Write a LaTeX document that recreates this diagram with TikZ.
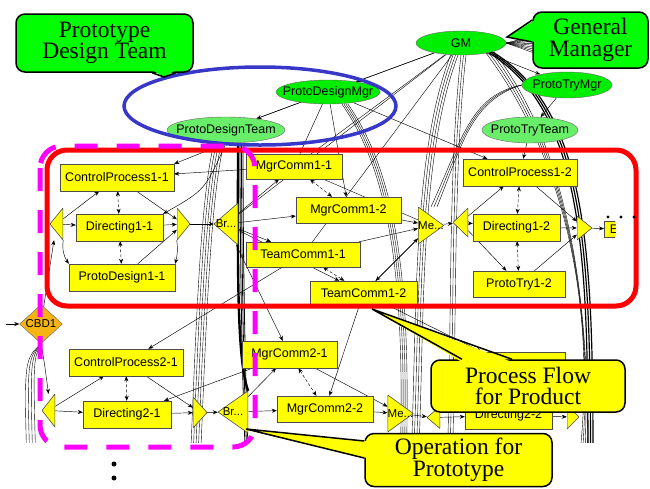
\documentclass[tikz,border=0pt]{standalone}
\usepackage{fontspec}
\setmainfont{Liberation Serif}
\newfontfamily\labelfont{Liberation Sans}
\usetikzlibrary{positioning, calc, arrows.meta, shapes.geometric}
\definecolor{rolegreen}{RGB}{0,238,0}
\definecolor{teamgreen}{RGB}{105,238,105}
\definecolor{calloutgreen}{RGB}{0,255,0}
\definecolor{boxyellow}{RGB}{255,255,0}
\definecolor{cbdorange}{RGB}{245,180,20}
\definecolor{ringblue}{RGB}{55,55,200}
\definecolor{flowred}{RGB}{255,0,0}
\definecolor{opmagenta}{RGB}{255,0,255}
\pgfdeclarelayer{background}
\pgfdeclarelayer{foreground}
\pgfsetlayers{background,main,foreground}

\tikzset{
  role/.style={ellipse, draw=black!60, fill=rolegreen, inner xsep=-8.5pt, inner ysep=0pt, font=\labelfont\fontsize{12.5}{14}\selectfont},
  team/.style={role, fill=teamgreen},
  task/.style={draw=black!70, fill=boxyellow, inner sep=0pt, font=\labelfont\fontsize{12.5}{14}\selectfont},
  trinode/.style={inner sep=0pt, font=\labelfont\fontsize{11.5}{13}\selectfont},
  ltri/.style={trinode, path picture={\filldraw[fill=boxyellow, draw=black!70, line width=0.6pt] (path picture bounding box.west) -- (path picture bounding box.north east) -- (path picture bounding box.south east) -- cycle;}},
  rtri/.style={trinode, path picture={\filldraw[fill=boxyellow, draw=black!70, line width=0.6pt] (path picture bounding box.east) -- (path picture bounding box.north west) -- (path picture bounding box.south west) -- cycle;}},
  gate/.style={diamond, draw=black!60, fill=cbdorange, inner sep=0pt, font=\labelfont\fontsize{11.5}{13}\selectfont},
  flow/.style={-{Stealth[length=5pt,width=4pt]}, line width=0.45pt},
  sync/.style={{Stealth[length=5pt,width=4pt]}-{Stealth[length=5pt,width=4pt]}, densely dashed, line width=0.45pt},
  wire/.style={line width=0.4pt},
  callout/.style={draw=black, line width=1.5pt, rounded corners=9pt, align=center, inner sep=0pt, font=\fontsize{23.5}{21.5}\selectfont},
  pointer/.style={draw=black, line width=1.5pt, line join=miter},
}

\begin{document}
\begin{tikzpicture}[x=1pt, y=-1pt]
  \useasboundingbox (0,0) rectangle (650,488);

  % Managers and teams
  \node[role, minimum width=90, minimum height=24] (GM) at (461,43) {GM};
  \node[role, minimum width=104, minimum height=24] (PDMgr) at (328,92) {ProtoDesignMgr};
  \node[team, minimum width=118, minimum height=26] (PDTeam) at (226,130) {ProtoDesignTeam};
  \node[role, minimum width=90, minimum height=26] (PTMgr) at (567,85) {ProtoTryMgr};
  \node[team, minimum width=96, minimum height=26] (PTTeam) at (530,130) {ProtoTryTeam};

  % Process flow, stage 1
  \node[ltri, minimum width=13, minimum height=32] (T1L) at (56.5,224) {};
  \node[task, minimum width=114, minimum height=27] (CP11) at (117,177.5) {ControlProcess1-1};
  \node[task, minimum width=87, minimum height=27] (D11) at (119.5,227.5) {Directing1-1};
  \node[task, minimum width=106, minimum height=27] (PD11) at (122,277.5) {ProtoDesign1-1};
  \node[rtri, minimum width=13, minimum height=32] (T1R) at (183.5,224) {};
  \node[ltri, minimum width=24, minimum height=42] (BR1) at (226,224) {Br...};
  \node[task, minimum width=96, minimum height=25] (MC11) at (294,166.5) {MgrComm1-1};
  \node[task, minimum width=105, minimum height=26] (MC12) at (348.5,210) {MgrComm1-2};
  \node[task, minimum width=114, minimum height=25] (TC11) at (303,254.5) {TeamComm1-1};
  \node[task, minimum width=107, minimum height=24] (TC12) at (363.5,293) {TeamComm1-2};
  \node[rtri, minimum width=24, minimum height=37] (ME1) at (431,225.5) {Me...};
  \node[ltri, minimum width=15, minimum height=29] (T2L) at (460.5,222.5) {};
  \node[task, minimum width=114, minimum height=27] (CP12) at (520,172.5) {ControlProcess1-2};
  \node[task, minimum width=87, minimum height=27] (D12) at (516.5,227.5) {Directing1-2};
  \node[task, minimum width=92, minimum height=26] (PT12) at (519,284) {ProtoTry1-2};
  \node[rtri, minimum width=15, minimum height=24] (T2R) at (584.5,228) {};
  \begin{scope}
    \clip (0,28) rectangle (615,442);
    \node[task, minimum width=30, minimum height=16, anchor=west] (E1) at (604,229) {E...};
  \end{scope}

  % Process flow, stage 2
  \node[gate, minimum width=43, minimum height=22] (CBD1) at (41,324) {CBD1};
  \node[ltri, minimum width=13, minimum height=33] (T3L) at (48.5,410.5) {};
  \node[task, minimum width=114, minimum height=27] (CP21) at (126,362.5) {ControlProcess2-1};
  \node[task, minimum width=88, minimum height=27] (D21) at (127,414.5) {Directing2-1};
  \node[rtri, minimum width=14, minimum height=31] (T3R) at (200,412.5) {};
  \node[ltri, minimum width=30, minimum height=42] (BR2) at (233,412) {Br...};
  \node[task, minimum width=95, minimum height=27] (MC21) at (289.5,354.5) {MgrComm2-1};
  \node[task, minimum width=96, minimum height=26] (MC22) at (325,409) {MgrComm2-2};
  \node[rtri, minimum width=25, minimum height=37] (ME2) at (400.5,413.5) {Me...};
  \node[ltri, minimum width=13, minimum height=22] (T4L) at (433.5,417.5) {};
  \node[task, minimum width=112, minimum height=27] (CP22) at (509,365.5) {};
  \node[task, minimum width=87, minimum height=27] (D22) at (508.5,415.5) {Directing2-2};
  \node[rtri, minimum width=12, minimum height=24] (T4R) at (573,417) {};

  % free ends
  \coordinate (entry) at (6,324);
  \coordinate (GMfar) at (565,28);
  \coordinate (lowA) at (418,470);
  \coordinate (lowA2) at (400,470);
  \coordinate (lowB) at (447,470);
  \coordinate (lowC) at (190,470);
  \coordinate (lowD) at (36,470);
  \coordinate (lowE) at (588,470);
  \coordinate (lowF) at (246,470);

  \begin{pgfonlayer}{background}
  \begin{scope}
    \clip (0,28) rectangle (615,442);
    % top level
    \foreach \d in {0,4,...,36}
      \draw[wire] (GM.east) -- ($(GMfar)+(0,\d)$);
    \draw[flow] (GM) -- (PDMgr);
    \draw[flow] (GM) -- (PTMgr);
    \draw[flow] (PDMgr) -- (PDTeam);
    \draw[flow] (PTMgr) -- (PTTeam);
    \draw[wire] (GM) -- (PDTeam);
    \draw[wire] (GM) -- (BR1);
    \draw[wire] (GM) -- (MC11);
    \draw[wire] (GM) -- (TC11);
    \foreach \d in {0,2.5,5,7.5}
      \draw[wire] ($(GM.south)+(-3-\d,0)$) .. controls (418-\d,160) and (425-\d,330) .. ($(lowA)+(-\d,0)$);
    \foreach \d in {0,2.5,5}
      \draw[wire] ($(GM.south)+(\d,0)$) .. controls (448+\d,170) and (452+\d,320) .. ($(lowB)+(\d,0)$);
    \foreach \d in {0,2.5,5}
      \draw[line width=1.2pt] ($(GM.south east)+(-6+\d,0)$) .. controls (585+\d,110) and (588+\d,260) .. ($(lowE)+(\d,0)$);
    \foreach \d in {0,3,6,9}
      \draw[wire] ($(GM.south east)+(-8+\d,0)$) .. controls (560+\d,150) and (600-\d,300) .. ($(lowE)+(-10+\d,0)$);
    \foreach \d in {0,2,4,6}
      \draw[wire] ($(PDMgr.south)+(14+\d,0)$) .. controls (395+\d,180) and (405+\d,300) .. ($(lowA2)+(\d,0)$);
    \draw[flow] (PDMgr) -- (MC11);
    \draw[flow] (PDMgr) -- (MC12);
    \draw[flow] (PDMgr) -- (CP12);
    \foreach \d in {0,2.5,5,7.5,10}
      \draw[wire] ($(PDTeam.south)+(-12+\d,0)$) .. controls (200+\d,200) and (196+\d,330) .. ($(lowC)+(\d,0)$);
    \draw[line width=2.4pt] ($(PDTeam.south)+(12,0)$) .. controls (238,250) and (236,360) .. (BR2.north east);
    \foreach \d in {0,1.5,3}
      \draw[line width=0.8pt] ($(PDTeam.south)+(14+\d,0)$) .. controls (240+\d,260) and (242+\d,380) .. ($(lowF)+(\d,0)$);
    \draw[flow] (PDTeam.south) -- (CP11.north east);
    \draw[flow] (PDTeam.south) .. controls (205,190) .. (D11.north east);
    \draw[flow] (PTTeam) -- (CP12);
    \foreach \d in {0,3,6}
      \draw[wire] (PTMgr.west) .. controls (470,95+\d) and (462,140+\d) .. ($(ME1.north)+(\d,0)$);

    % stage 1
    \draw[flow] (T1L) -- (D11);
    \draw[flow] (T1L) -- (CP11);
    \draw[flow] (T1L.south east) to[bend right=20] (PD11.north west);
    \draw[sync] (CP11) -- (D11);
    \draw[sync] (D11) -- (PD11);
    \draw[flow] (D11) -- (T1R);
    \draw[flow] (CP11) -- (T1R);
    \draw[flow] (PD11) -- (T1R);
    \draw[flow] (T1R.south west) to[bend left=10] (PD11.north east);
    \draw[flow] (T1R) -- (BR1);
    \draw[flow] (BR1) -- (MC11);
    \draw[flow] (BR1) -- (MC12);
    \draw[flow] (BR1) -- (TC11);
    \draw[flow] (BR1) -- (TC12);
    \draw[flow] (MC11) -- (CP11);
    \draw[sync] (MC11) -- (MC12);
    \draw[sync] (TC11) -- (TC12);
    \draw[flow] (MC12) -- (ME1);
    \draw[flow] (TC11) -- (ME1);
    \draw[flow] (TC12) -- (ME1);
    \draw[wire] (MC11) -- (ME1);
    \draw[flow] (ME1) -- (TC12);
    \draw[flow] (ME1) -- (T2L);
    \draw[flow] (T2L) -- (CP12);
    \draw[flow] (T2L) -- (D12);
    \draw[flow] (T2L) -- (PT12);
    \draw[sync] (CP12) -- (D12);
    \draw[sync] (D12) -- (PT12);
    \draw[flow] (D12) -- (T2R);
    \draw[flow] (CP12) -- (T2R);
    \draw[flow] (PT12) -- (T2R);
    \draw[flow] (T2R) -- (E1);

    % stage 2
    \draw[flow] (entry) -- (CBD1);
    \draw[flow] (CBD1) -- (T1L);
    \draw[flow] (CBD1.south) .. controls (44,360) .. (T3L.north);
    \foreach \d in {0,3,6,9}
      \draw[wire] (CBD1.south) .. controls (33-\d,360) .. ($(lowD)+(-\d,0)$);
    \draw[flow] (T3L) -- (D21);
    \draw[flow] (T3L) -- (CP21);
    \draw[sync] (CP21) -- (D21);
    \draw[flow] (D21) -- (T3R);
    \draw[flow] (CP21) -- (T3R);
    \draw[flow] (T3R) -- (BR2);
    \draw[flow] (BR2) -- (MC21);
    \draw[flow] (BR2) -- (MC22);
    \draw[sync] (MC21) -- (MC22);
    \draw[flow] (MC21) -- (ME2);
    \draw[flow] (MC22) -- (ME2);
    \draw[flow] (ME2) -- (T4L);
    \draw[flow] (TC11) -- (CP21);
    \draw[flow] (MC21) -- (D21);
    \draw[flow] (BR1) -- (MC21);
    \draw[flow] (TC12) -- (MC22);
    \draw[flow] (TC12) -- (CP22);
    \draw[flow] (T4L) -- (D22);
    \draw[flow] (D22) -- (T4R);
  \end{scope}
  \end{pgfonlayer}

  \begin{pgfonlayer}{foreground}
    % group outlines
    \draw[flowred, line width=5pt, rounded corners=20pt] (47,150) rectangle (636,306);
    \draw[ringblue, line width=3.5pt] (260,106) ellipse [x radius=136, y radius=39];
    \draw[opmagenta, line width=5pt, dash pattern=on 23pt off 19pt, rounded corners=22pt] (40,146) rectangle (255,447);
    \fill (114,464) circle (2.5pt);
    \fill (114,478) circle (2.5pt);
    \foreach \x in {608,621,634}
      \fill (\x,217) circle (1.6pt);

    % callouts
    \node[callout, fill=calloutgreen, minimum width=177, minimum height=58] (cPDT) at (104.5,43) {Prototype\\Design Team};
    \coordinate (pdtTip) at (164,77);
    \coordinate (pdtA) at (152,70);
    \coordinate (pdtB) at (176,70);
    \fill[calloutgreen] (pdtA) -- (pdtTip) -- (pdtB) -- cycle;
    \draw[pointer] (pdtA |- cPDT.south) -- (pdtTip) -- (pdtB |- cPDT.south);

    \node[callout, fill=calloutgreen, minimum width=115, minimum height=56] (cGM) at (590.5,40) {General\\Manager};
    \coordinate (gmTip) at (507,37);
    \coordinate (gmA) at (535,20);
    \coordinate (gmB) at (535,42);
    \fill[calloutgreen] (gmA) -- (gmTip) -- (gmB) -- cycle;
    \draw[pointer] (gmA -| cGM.west) -- (gmTip) -- (gmB -| cGM.west);

    \node[callout, fill=boxyellow, minimum width=194, minimum height=52] (cPF) at (528,386) {Process Flow\\for Product};
    \coordinate (pfTip) at (372,309);
    \coordinate (pfA) at (462,362);
    \coordinate (pfB) at (512,362);
    \fill[boxyellow] (pfA) -- (pfTip) -- (pfB) -- cycle;
    \draw[pointer] (pfA |- cPF.north) -- (pfTip) -- (pfB |- cPF.north);

    \node[callout, fill=boxyellow, minimum width=187, minimum height=53] (cOP) at (458.5,460) {Operation for\\Prototype};
    \coordinate (opTip) at (246,429);
    \coordinate (opA) at (367,441);
    \coordinate (opB) at (367,458);
    \fill[boxyellow] (opA) -- (opTip) -- (opB) -- cycle;
    \draw[pointer] (opA -| cOP.west) -- (opTip) -- (opB -| cOP.west);
  \end{pgfonlayer}
\end{tikzpicture}
\end{document}
